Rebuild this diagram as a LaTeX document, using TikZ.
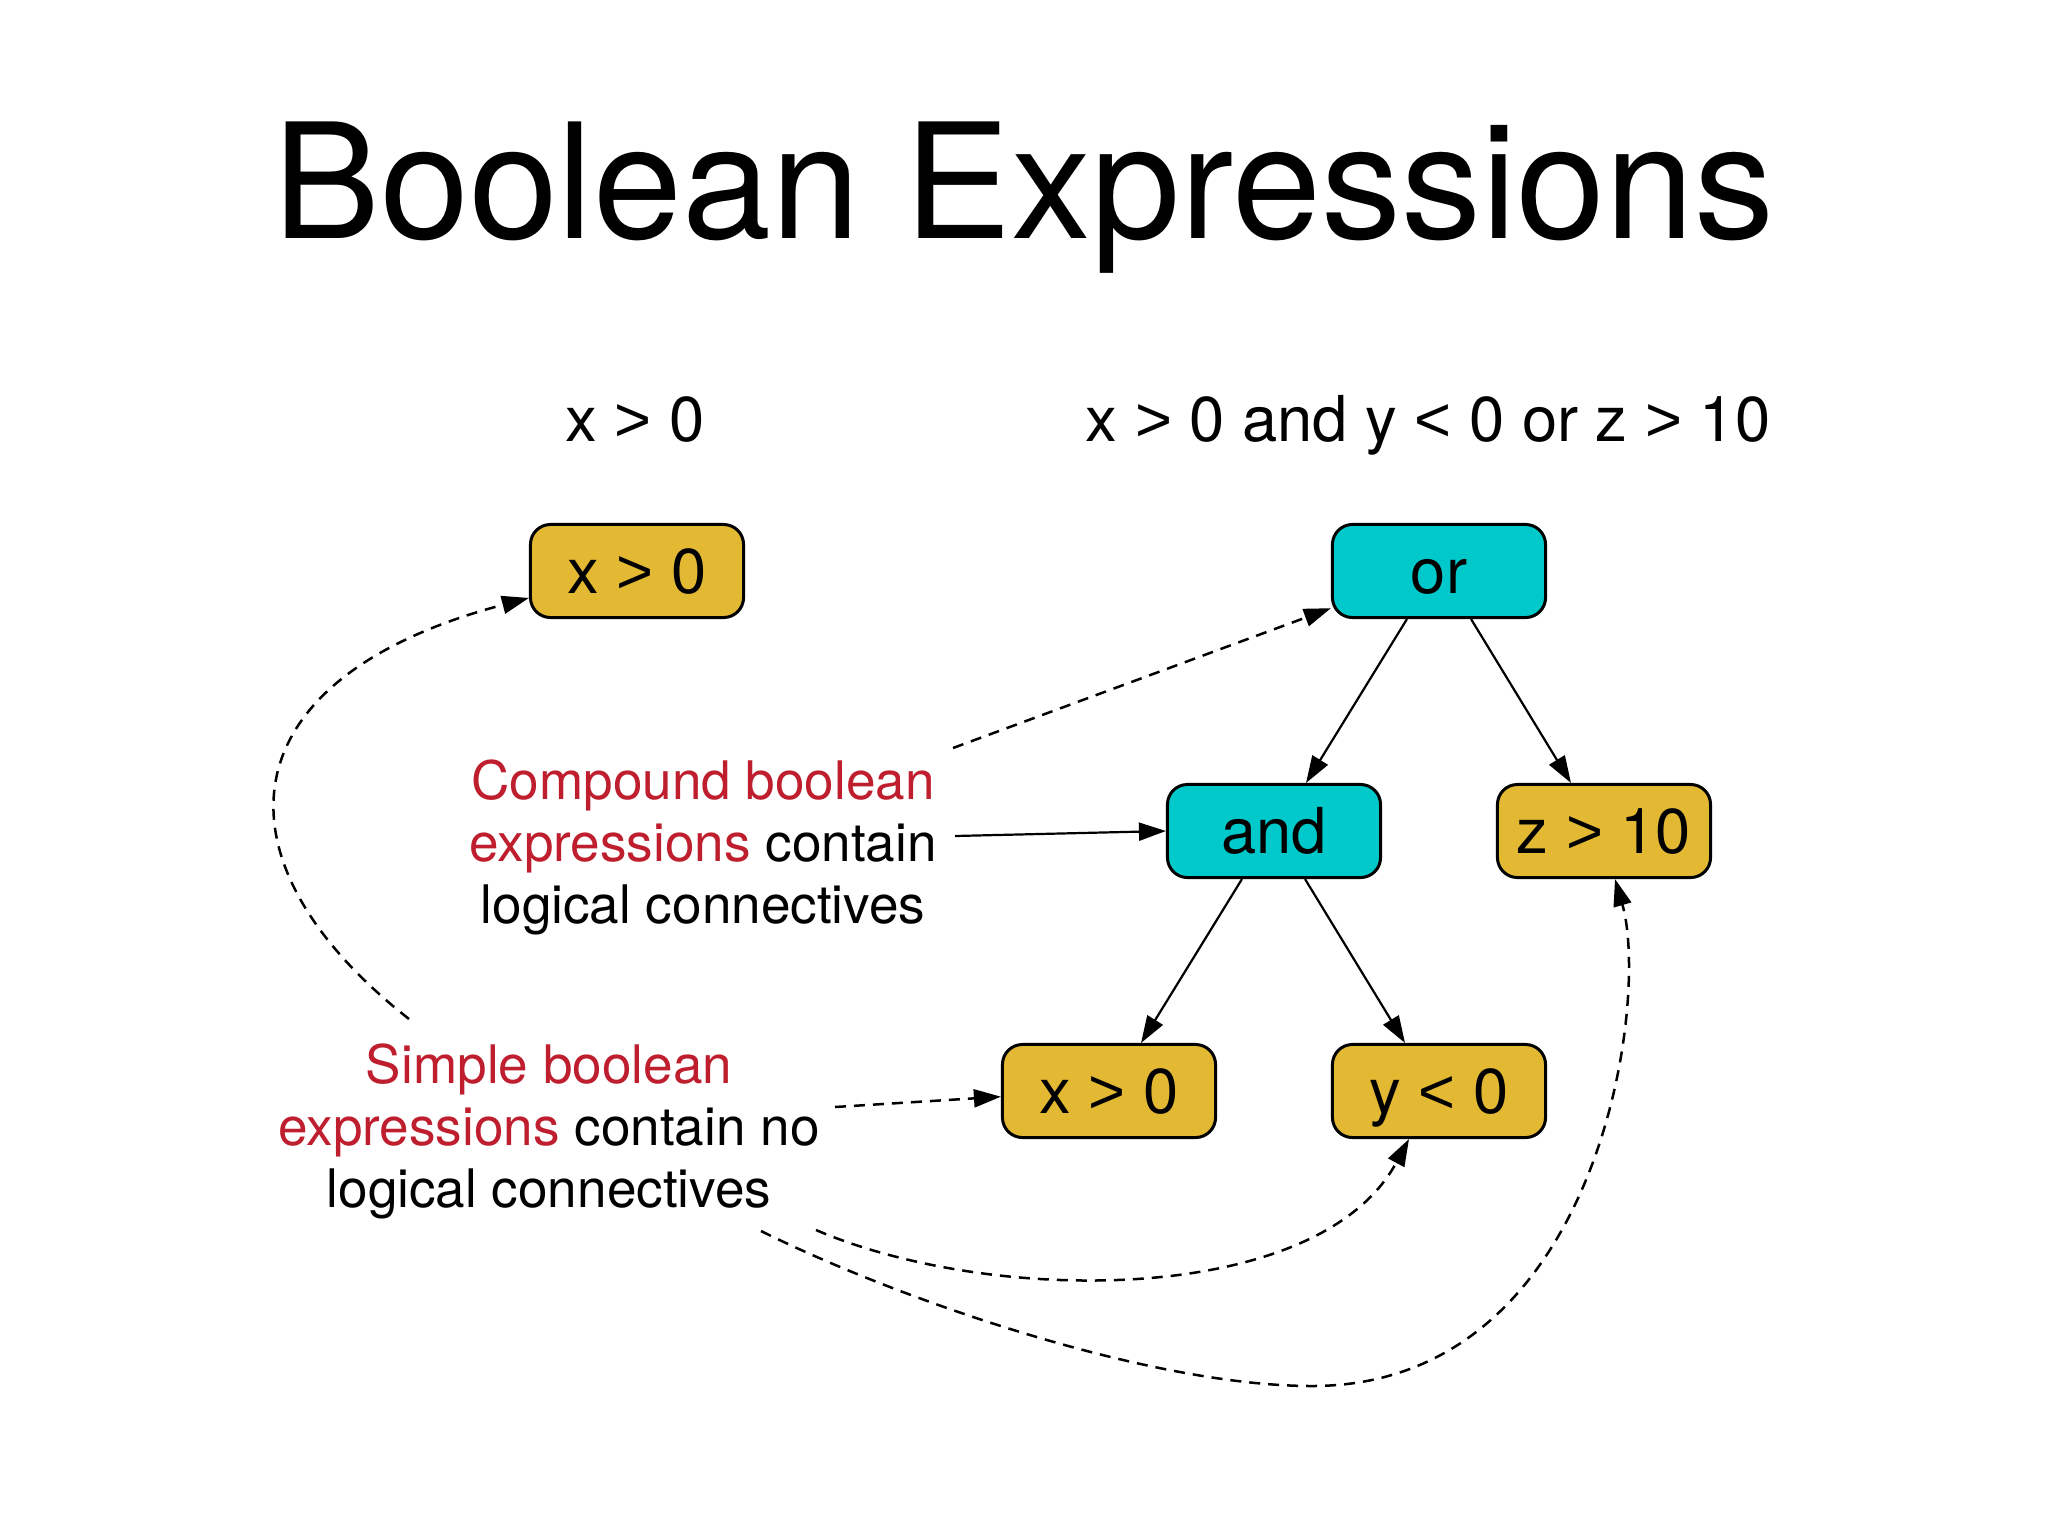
\documentclass[tikz,border=0pt]{standalone}
\usepackage{fontspec}
\setmainfont{TeX Gyre Heros}
\newfontfamily\symfont{Liberation Sans}
\newcommand{\gtsym}{{\symfont >}}
\newcommand{\ltsym}{{\symfont <}}
\usetikzlibrary{arrows.meta}
\definecolor{boxyellow}{RGB}{227,185,52}
\definecolor{boxcyan}{RGB}{0,201,204}
\definecolor{annred}{RGB}{190,30,45}
\begin{document}
\begin{tikzpicture}[x=0.01cm,y=-0.01cm,
  box/.style={draw=black,line width=0.03cm,rounded corners=0.2cm,minimum width=2.13cm,minimum height=0.93cm,inner sep=0pt,text height=0.45cm,text depth=0pt,font=\fontsize{18}{20}\selectfont},
  leaf/.style={box,fill=boxyellow},
  opbox/.style={box,fill=boxcyan},
  tip/.style={-{Triangle[length=0.27cm,width=0.18cm]}},
  treeedge/.style={line width=0.022cm,tip},
  dashedge/.style={line width=0.025cm,tip,dash pattern=on 0.11cm off 0.08cm},
  ann/.style={align=center,font=\fontsize{15.1}{17.6}\selectfont},
  sub/.style={anchor=base,font=\fontsize{18}{20}\selectfont}]
\useasboundingbox (0,0) rectangle (2048,1536);
\fill[white] (0,0) rectangle (2048,1536);

\node[anchor=base,font=\fontsize{45.5}{50}\selectfont] (title) at (1024,238) {Boolean Expressions};
\node[sub] (sub1) at (635,441) {x \gtsym{} 0};
\node[sub] (sub2) at (1428,441) {x \gtsym{} 0 and y \ltsym{} 0 or z \gtsym{} 10};

\node[leaf] (xt) at (637,571) {x \gtsym{} 0};
\node[opbox] (or) at (1439,571) {or};
\node[opbox] (and) at (1274,831) {and};
\node[leaf] (zt) at (1604,831) {z \gtsym{} 10};
\node[leaf] (xb) at (1109,1091) {x \gtsym{} 0};
\node[leaf] (yl) at (1439,1091) {y \ltsym{} 0};

\node[ann,anchor=base] (comp) at (703,923) {\textcolor{annred}{Compound boolean}\\\textcolor{annred}{expressions} contain\\logical connectives};
\node[ann,anchor=base] (simp) at (549,1207) {\textcolor{annred}{Simple boolean}\\\textcolor{annred}{expressions} contain no\\logical connectives};

\draw[treeedge] ([xshift=-0.32cm]or.south) -- ([xshift=0.32cm]and.north);
\draw[treeedge] ([xshift=0.32cm]or.south) -- ([xshift=-0.33cm]zt.north);
\draw[treeedge] ([xshift=-0.32cm]and.south) -- ([xshift=0.32cm]xb.north);
\draw[treeedge] ([xshift=0.31cm]and.south) -- ([xshift=-0.34cm]yl.north);

\coordinate (cOr) at (953,748);
\coordinate (cAnd) at (955,836);
\coordinate (sXt) at (409,1019);
\coordinate (sXb) at (835,1107);
\coordinate (sYl) at (816,1230);
\coordinate (sZt) at (761,1231);
\coordinate (zLow) at (1312,1386);

\draw[dashedge] (cOr) -- (or.199);
\draw[treeedge] (cAnd) -- (and.west);
\draw[dashedge] (sXt) .. controls (209,862) and (222,679) .. (xt.194);
\draw[dashedge] (sXb) -- (xb.183);
\draw[dashedge] (sYl) .. controls (993,1306) and (1319,1306) .. ([xshift=-0.3cm]yl.south);
\draw[dashedge] (sZt) .. controls (900,1300) and (1150,1386) .. (zLow) .. controls (1600,1386) and (1650,1000) .. ([xshift=0.11cm]zt.south);
\end{tikzpicture}
\end{document}
